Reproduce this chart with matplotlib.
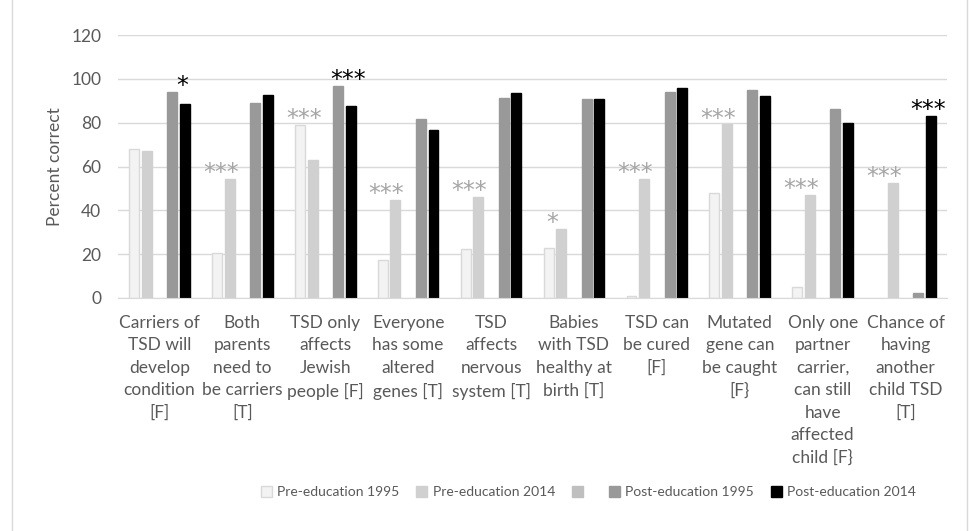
import matplotlib
matplotlib.use("Agg")
import matplotlib.pyplot as plt
import numpy as np
from matplotlib.patches import Rectangle

plt.rcParams["font.family"] = ["Lato", "DejaVu Sans"]

categories = [
    "Carriers of\nTSD will\ndevelop\ncondition\n[F]",
    "Both\nparents\nneed to\nbe carriers\n[T]",
    "TSD only\naffects\nJewish\npeople [F]",
    "Everyone\nhas some\naltered\ngenes [T]",
    "TSD\naffects\nnervous\nsystem [T]",
    "Babies\nwith TSD\nhealthy at\nbirth [T]",
    "TSD can\nbe cured\n[F]",
    "Mutated\ngene can\nbe caught\n[F}",
    "Only one\npartner\ncarrier,\ncan still\nhave\naffected\nchild [F}",
    "Chance of\nhaving\nanother\nchild TSD\n[T]",
]
pre_1995 = [68, 20.6, 79, 17.4, 22.3, 22.9, 1.0, 47.7, 5.0, np.nan]
pre_2014 = [67.3, 54.2, 63, 44.8, 46.0, 31.6, 54.2, 79.2, 47.1, 52.5]
spacer = [np.nan] * 10
post_1995 = [94.1, 89.1, 96.6, 81.5, 91.4, 90.6, 94.1, 95.1, 86.2, 2.1]
post_2014 = [88.6, 92.7, 87.6, 76.8, 93.6, 90.6, 95.7, 92.3, 80.0, 83.0]
pre_stars = ["", "***", "***", "***", "***", "*", "***", "***", "***", "***"]
post_stars = ["*", "", "***", "", "", "", "", "", "", "***"]

fig = plt.figure(figsize=(9.73, 5.31), dpi=100)
ax = fig.add_axes([118 / 973, 1 - 298 / 531, 829 / 973, 263 / 531])

fig.patches.append(Rectangle((12 / 973, -0.1), 955 / 973, 1.2, transform=fig.transFigure,
                             fill=False, edgecolor="#d9d9d9", linewidth=1))

x = np.arange(len(categories))
step = 0.153
w = 0.12
series = [
    (pre_1995, "Pre-education 1995", "#f3f3f3", "#d9d9d9"),
    (pre_2014, "Pre-education 2014", "#d0d0d0", "#d0d0d0"),
    (spacer, " ", "#bfbfbf", "#bfbfbf"),
    (post_1995, "Post-education 1995", "#999999", "#999999"),
    (post_2014, "Post-education 2014", "#000000", "#000000"),
]
for k, (vals, lab, fc, ec) in enumerate(series):
    ax.bar(x + (k - 2) * step, vals, width=w, color=fc, edgecolor=ec,
           linewidth=1, label=lab, zorder=3)

for i in range(len(categories)):
    if pre_stars[i]:
        top = np.nanmax([pre_1995[i], pre_2014[i]])
        ax.text(x[i] - 0.26, top - 0.5, pre_stars[i], ha="center", va="baseline",
                fontsize=17, color="#a6a6a6", family="DejaVu Sans")
    if post_stars[i]:
        top = np.nanmax([post_1995[i], post_2014[i]])
        ax.text(x[i] + 0.27, top - 0.5, post_stars[i], ha="center", va="baseline",
                fontsize=17, color="#000000", family="DejaVu Sans")

ax.set_xlim(-0.5, len(categories) - 0.5)
ax.set_ylim(0, 120)
ax.set_yticks(range(0, 121, 20))
ax.set_xticks(x)
ax.set_xticklabels(categories, fontsize=12.5, color="#595959", linespacing=1.5)
ax.tick_params(axis="x", length=0, pad=12)
ax.tick_params(axis="y", length=0, pad=12, labelsize=12.5, labelcolor="#595959")
ax.grid(axis="y", color="#d9d9d9", linewidth=1, zorder=0)
for s in ["top", "right", "left"]:
    ax.spines[s].set_visible(False)
ax.spines["bottom"].set_color("#d9d9d9")
ax.spines["bottom"].set_zorder(4)
ax.set_ylabel("Percent correct", fontsize=12.5, color="#595959", labelpad=6)

ax.legend(loc="center left", bbox_to_anchor=(248 / 973, (531 - 492) / 531), bbox_transform=fig.transFigure,
          ncol=5, frameon=False, fontsize=10, labelcolor="#595959",
          handlelength=0.8, handleheight=0.8, handletextpad=0.4, columnspacing=1.2)

fig.savefig("out.png", dpi=100)
